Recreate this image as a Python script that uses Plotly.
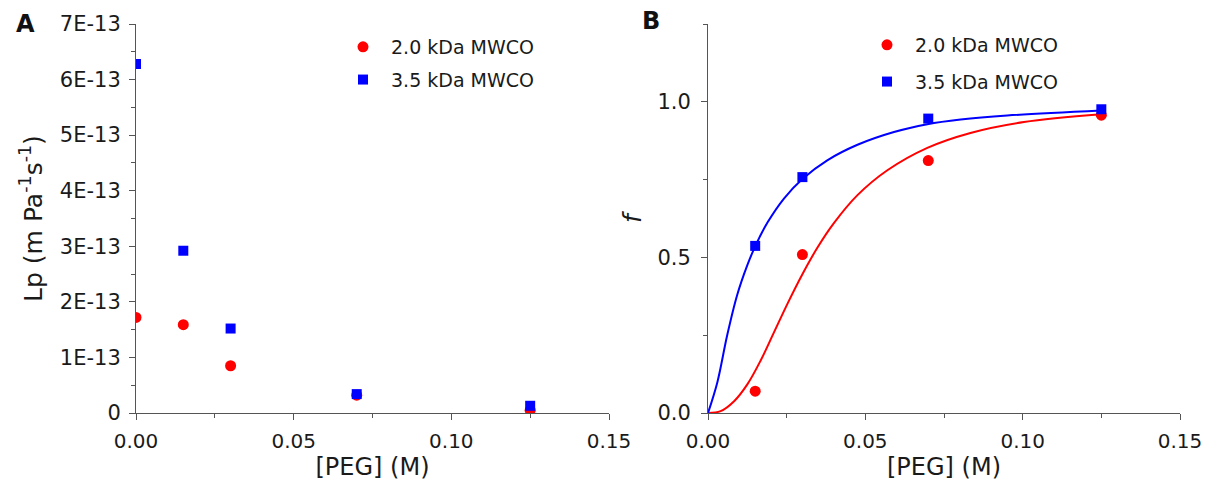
import plotly.graph_objects as go

# ---- Panel A data: Lp vs [PEG]
peg_a = [0.0, 0.015, 0.03, 0.07, 0.125]
lp_20 = [1.72e-13, 1.59e-13, 0.85e-13, 0.32e-13, 0.05e-13]
lp_35 = [6.28e-13, 2.92e-13, 1.52e-13, 0.34e-13, 0.13e-13]

# ---- Panel B data: f vs [PEG]
peg_b = [0.015, 0.03, 0.07, 0.125]
f_20 = [0.070, 0.509, 0.811, 0.957]
f_35 = [0.537, 0.758, 0.946, 0.976]

# fitted curves
fit_x_20 = [0.0, 0.004, 0.0083, 0.0125, 0.0167, 0.021, 0.0252, 0.030, 0.0347, 0.040, 0.0475, 0.057, 0.0697, 0.0834, 0.1004, 0.125]
fit_y_20 = [0.0, 0.006, 0.038, 0.092, 0.168, 0.260, 0.350, 0.446, 0.530, 0.610, 0.700, 0.780, 0.852, 0.900, 0.935, 0.960]
fit_x_35 = [0.0, 0.003, 0.0061, 0.0093, 0.0125, 0.0151, 0.0189, 0.0242, 0.030, 0.0379, 0.0475, 0.0591, 0.0697, 0.0803, 0.0951, 0.125]
fit_y_35 = [0.0, 0.100, 0.250, 0.380, 0.475, 0.538, 0.612, 0.690, 0.752, 0.812, 0.862, 0.903, 0.928, 0.943, 0.956, 0.972]

lp_ticks = [i * 1e-13 for i in range(8)]
lp_ticktext = ["0"] + [f"{i}E-13" for i in range(1, 8)]

RED = "#ff0000"
BLUE = "#0000ff"
FONT = "DejaVu Sans, Liberation Sans, Arial, sans-serif"
AX = "#555555"
TXT = "#1a1a1a"

W, H = 1212, 485
ML, MR, MT, MB = 136, 32, 24, 72
PW = W - ML - MR
PH = H - MT - MB


def px_x(p):
    return (p - ML) / PW


def px_y(p):
    return 1 - (p - MT) / PH


fig = go.Figure()

# Panel A
fig.add_trace(go.Scatter(x=peg_a, y=lp_20, mode="markers", name="2.0 kDa MWCO",
                         marker=dict(symbol="circle", size=11, color=RED),
                         xaxis="x", yaxis="y", legend="legend", legendgroup="a1"))
fig.add_trace(go.Scatter(x=peg_a, y=lp_35, mode="markers", name="3.5 kDa MWCO",
                         marker=dict(symbol="square", size=10, color=BLUE),
                         xaxis="x", yaxis="y", legend="legend", legendgroup="a2"))

# Panel B
fig.add_trace(go.Scatter(x=fit_x_20, y=fit_y_20, mode="lines", line=dict(color=RED, width=2, shape="spline", smoothing=1.0),
                         xaxis="x2", yaxis="y2", showlegend=False, hoverinfo="skip"))
fig.add_trace(go.Scatter(x=fit_x_35, y=fit_y_35, mode="lines", line=dict(color=BLUE, width=2, shape="spline", smoothing=1.0),
                         xaxis="x2", yaxis="y2", showlegend=False, hoverinfo="skip"))
fig.add_trace(go.Scatter(x=peg_b, y=f_20, mode="markers", name="2.0 kDa MWCO",
                         marker=dict(symbol="circle", size=11, color=RED),
                         xaxis="x2", yaxis="y2", legend="legend2", legendgroup="b1"))
fig.add_trace(go.Scatter(x=peg_b, y=f_35, mode="markers", name="3.5 kDa MWCO",
                         marker=dict(symbol="square", size=10, color=BLUE),
                         xaxis="x2", yaxis="y2", legend="legend2", legendgroup="b2"))

axis_common = dict(showline=True, linecolor=AX, linewidth=1, ticks="outside", ticklen=6,
                   tickcolor=AX, showgrid=False, zeroline=False, mirror=False, automargin=False)

xtickfont = dict(family=FONT, size=20, color=TXT)
ytickfont = dict(family=FONT, size=21, color=TXT)
minor_x = dict(ticks="outside", ticklen=4, tickvals=[0.025, 0.075, 0.125], tickcolor=AX)

fig.update_layout(
    width=W, height=H,
    margin=dict(l=ML, r=MR, t=MT, b=MB),
    paper_bgcolor="white", plot_bgcolor="white",
    font=dict(family=FONT, color=TXT),
    xaxis=dict(domain=[0, 473 / PW], range=[0, 0.15], tickvals=[0, 0.05, 0.10, 0.15],
               tickformat=".2f", anchor="y", tickfont=xtickfont, ticklabelstandoff=4,
               minor=minor_x,
               title=dict(text="[PEG] (M)", font=dict(family=FONT, size=24), standoff=4),
               **axis_common),
    yaxis=dict(domain=[0, 1], range=[0, 7e-13], tickvals=lp_ticks, ticktext=lp_ticktext, anchor="x",
               tickfont=ytickfont, ticklabelstandoff=4,
               minor=dict(ticks="outside", ticklen=4, tickvals=[(i + 0.5) * 1e-13 for i in range(7)], tickcolor=AX),
               title=dict(text="Lp (m Pa<sup>-1</sup>s<sup>-1</sup>)", font=dict(family=FONT, size=25), standoff=10),
               **axis_common),
    xaxis2=dict(domain=[572 / PW, 1], range=[0, 0.15], tickvals=[0, 0.05, 0.10, 0.15],
                tickformat=".2f", anchor="y2", tickfont=xtickfont, ticklabelstandoff=4,
                minor=minor_x,
                title=dict(text="[PEG] (M)", font=dict(family=FONT, size=24), standoff=4),
                **axis_common),
    yaxis2=dict(domain=[0, 1], range=[0, 1.25], tickvals=[0, 0.5, 1.0], tickformat=".1f", anchor="x2",
                tickfont=ytickfont, ticklabelstandoff=6,
                minor=dict(ticks="outside", ticklen=4, tickvals=[0.25, 0.75, 1.25], tickcolor=AX),
                title=dict(text="<i>f</i>", font=dict(family=FONT, size=25), standoff=8),
                **axis_common),
    legend=dict(x=px_x(335), y=px_y(28), xanchor="left", yanchor="top", itemwidth=46,
                bgcolor="rgba(0,0,0,0)", font=dict(family=FONT, size=19, color=TXT),
                traceorder="grouped", tracegroupgap=5),
    legend2=dict(x=px_x(859), y=px_y(26), xanchor="left", yanchor="top", itemwidth=46,
                 bgcolor="rgba(0,0,0,0)", font=dict(family=FONT, size=19, color=TXT),
                 traceorder="grouped", tracegroupgap=9),
    annotations=[
        dict(text="<b>A</b>", x=px_x(25), y=px_y(24), xref="paper", yref="paper",
             xanchor="center", yanchor="middle",
             showarrow=False, font=dict(family=FONT, size=24, color="#111")),
        dict(text="<b>B</b>", x=px_x(651), y=px_y(21), xref="paper", yref="paper",
             xanchor="center", yanchor="middle",
             showarrow=False, font=dict(family=FONT, size=24, color="#111")),
    ],
)

fig.write_html("out.html", config={"displayModeBar": False},
               post_script="document.body.style.margin='0';")
